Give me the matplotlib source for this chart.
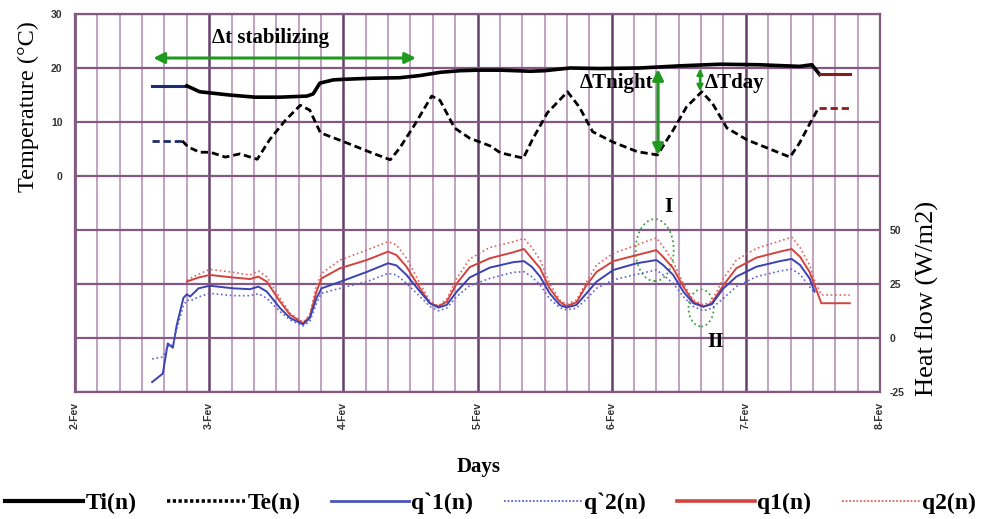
import numpy as np
import matplotlib
matplotlib.use('Agg')
import matplotlib.pyplot as plt
from matplotlib.lines import Line2D
from matplotlib.patches import Ellipse

SERIF = ['Liberation Serif', 'DejaVu Serif']
SANS = ['Liberation Sans', 'DejaVu Sans']

# ========== data (time = hours from 2-Fev 00:00) ==========
day_labels = ['2-Fev', '3-Fev', '4-Fev', '5-Fev', '6-Fev', '7-Fev', '8-Fev']

# Ti(n) indoor temperature
ti_start_h = [13.8, 20.0]
ti_start = [16.7, 16.7]
ti_h = [20.0, 22.3, 27.6, 32.2, 36.7, 41.5, 42.6, 43.8, 46.2, 48.0, 52.8, 58.1, 61.7, 65.3,
        68.9, 72.0, 76.1, 81.4, 84.0, 88.6, 93.8, 101.0, 108.2, 115.4, 122.4, 129.6, 131.8, 133.2]
ti = [16.7, 15.6, 15.0, 14.6, 14.6, 14.8, 15.2, 17.2, 17.8, 17.9, 18.1, 18.2, 18.6, 19.2,
      19.5, 19.6, 19.6, 19.4, 19.5, 20.0, 19.9, 20.0, 20.4, 20.7, 20.6, 20.3, 20.6, 18.8]
ti_end_h = [133.2, 138.6]
ti_end = [18.8, 18.8]

# Te(n) outdoor temperature
te_start_h = [13.8, 19.2]
te_start = [6.5, 6.5]
te_h = [19.2, 20.2, 22.3, 24.2, 26.9, 29.5, 32.6, 34.8, 37.7, 40.3, 42.0, 43.9, 48.2, 52.8,
        56.4, 58.1, 60.7, 63.8, 65.3, 67.9, 70.6, 74.2, 76.1, 80.2, 81.8, 84.5, 88.1, 90.2,
        92.6, 96.2, 100.6, 104.2, 107.0, 109.4, 112.1, 114.0, 116.6, 120.2, 123.8, 127.9,
        129.6, 131.5, 133.0]
te = [6.5, 5.4, 4.4, 4.4, 3.5, 4.1, 3.1, 6.7, 10.4, 13.1, 12.2, 8.0, 6.3, 4.4,
      3.0, 5.2, 9.4, 14.8, 14.0, 8.9, 7.0, 5.6, 4.3, 3.3, 6.7, 11.7, 15.6, 12.8,
      8.2, 6.3, 4.5, 3.9, 8.5, 12.8, 15.6, 13.5, 8.9, 6.7, 5.2, 3.5,
      6.1, 9.8, 12.6]
te_end_h = [133.0, 138.6]
te_end = [12.6, 12.6]

# heat flows q1, q2 (red)
red_h = [20.0, 22.1, 24.1, 28.3, 31.3, 32.8, 34.3, 36.7, 38.5, 40.8, 42.0, 43.2, 44.1, 47.4,
         52.2, 56.0, 57.5, 59.3, 61.7, 63.5, 65.0, 66.5, 68.3, 70.6, 74.2, 78.4, 80.3, 81.7,
         83.2, 84.9, 86.7, 87.9, 89.7, 91.5, 93.3, 96.3, 100.5, 104.0, 105.2, 107.0, 108.8,
         110.6, 112.4, 113.9, 116.0, 118.3, 121.9, 126.1, 128.2, 129.7, 131.4, 132.3, 133.5, 138.6]
q1 = [26.1, 28.0, 29.2, 28.0, 27.3, 28.4, 26.1, 16.8, 10.7, 6.8, 9.9, 21.5, 27.6, 32.3,
      36.1, 40.0, 38.4, 33.0, 23.0, 16.1, 14.6, 16.8, 25.3, 32.8, 36.9, 39.7, 41.2, 36.9,
      32.3, 23.0, 16.8, 14.8, 16.5, 24.5, 30.6, 35.6, 38.4, 40.7, 37.6, 32.3, 23.8,
      16.8, 14.5, 16.1, 24.5, 32.3, 37.2, 40.0, 41.2, 37.6, 30.6, 24.5, 16.1, 16.1]
q2 = [26.8, 29.5, 31.8, 30.4, 29.2, 31.0, 28.4, 18.4, 11.4, 7.3, 10.7, 24.5, 29.9, 36.1,
      40.7, 44.6, 43.1, 36.9, 25.3, 17.1, 14.8, 18.1, 27.6, 36.6, 41.9, 44.6, 46.1, 41.9,
      36.1, 25.3, 17.6, 15.6, 17.6, 26.1, 33.8, 39.2, 43.1, 46.4, 42.3, 35.3, 25.3,
      17.6, 15.3, 17.1, 27.6, 36.1, 41.5, 44.9, 46.7, 41.9, 33.8, 26.8, 19.9, 19.9]

# heat flows q`1, q`2 (blue)
blue_h = [13.8, 15.7, 16.6, 17.5, 18.2, 19.4, 20.0, 20.6, 22.1, 24.1, 28.3, 31.3, 32.8, 34.3,
          36.7, 38.5, 40.8, 42.0, 43.2, 44.1, 47.4, 52.2, 56.0, 57.5, 59.3, 61.7, 63.5, 65.0,
          66.5, 68.3, 70.6, 74.2, 78.4, 80.3, 81.7, 83.2, 84.9, 86.7, 87.9, 89.7, 91.5, 93.3,
          96.3, 100.5, 104.0, 105.2, 107.0, 108.8, 110.6, 112.4, 113.9, 116.0, 118.3, 121.9,
          126.1, 128.2, 129.7, 131.4, 132.3]
qp1 = [-20.4, -16.5, -2.5, -4.5, 6.0, 18.6, 20.2, 19.2, 23.0, 24.2, 23.0, 22.6, 23.8, 21.5,
       13.8, 9.2, 6.3, 9.2, 18.4, 23.0, 26.0, 30.6, 34.6, 33.6, 29.2, 21.5, 16.1, 14.1,
       15.3, 21.5, 28.0, 32.6, 35.1, 35.6, 33.0, 28.4, 20.7, 15.3, 14.1, 15.3, 20.7, 26.1,
       31.5, 34.6, 36.1, 33.8, 29.2, 21.5, 16.1, 14.5, 15.6, 23.0, 28.4, 33.0,
       35.6, 36.6, 33.8, 27.6, 21.5]
qp2 = [-9.7, -8.8, -4.0, -3.0, 4.0, 15.0, 17.6, 17.2, 19.0, 20.7, 19.6, 19.6, 20.5, 18.4,
       12.2, 8.3, 5.6, 7.6, 16.1, 20.7, 23.0, 26.1, 29.9, 29.2, 25.3, 19.2, 14.6, 12.6,
       13.8, 19.2, 24.2, 27.6, 30.4, 30.7, 28.4, 24.5, 18.1, 14.1, 13.0, 13.8, 18.1, 23.0,
       26.9, 29.5, 31.5, 29.2, 25.3, 19.2, 14.6, 12.6, 13.8, 18.4, 23.8, 28.4,
       31.0, 31.9, 29.5, 23.8, 20.7]

# annotation values
stab_start, stab_end, stab_temp = 14.0, 61.0, 21.85
night_h, night_top, night_bot = 104.3, 19.8, 3.9
day_h, day_top, day_bot = 111.8, 19.9, 15.7

# ========== colours ==========
GRID_H = '#835983'
GRID_DAY = '#64406a'
GRID_MINOR = '#b894b8'
GREEN = '#1f9a1f'
NAVY = '#1c2a70'
DARKRED = '#8a1c1c'
BLUE = '#3a42b2'
BLUE_DOT = '#5b63d6'
RED = '#d2433e'
RED_DOT = '#e3625c'

fig = plt.figure(figsize=(9.81, 5.19), dpi=100)
ax = fig.add_axes([75 / 981, 1 - 392 / 519, 805 / 981, 378 / 519])
ax2 = ax.twinx()

# ---------- grid ----------
ax.set_xlim(0, 144)
ax.set_ylim(-40, 30)
ax2.set_ylim(-25, 150)
ax.set_xticks(np.arange(0, 145, 24))
ax.set_xticks(np.arange(0, 145, 4), minor=True)
ax.set_yticks(np.arange(-40, 31, 10))
ax.grid(which='minor', axis='x', color=GRID_MINOR, linewidth=1.2)
ax.grid(which='major', axis='x', color=GRID_DAY, linewidth=1.8)
ax.grid(which='major', axis='y', color=GRID_H, linewidth=1.6)
ax.set_axisbelow(True)
for sp in ax.spines.values():
    sp.set_color(GRID_H)
    sp.set_linewidth(1.6)
for sp in ax2.spines.values():
    sp.set_visible(False)

ax.set_xticklabels(day_labels, rotation=90, fontsize=7.5, fontweight='bold',
                   family=SANS, color='#333333', va='top')
ax.set_yticklabels([str(v) if v >= 0 else '' for v in range(-40, 31, 10)],
                   fontsize=7.5, fontweight='bold', family=SANS, color='#333333')
ax2.set_yticks([-25, 0, 25, 50])
ax2.set_yticklabels(['-25', '0', '25', '50'], fontsize=7.5, fontweight='bold',
                    family=SANS, color='#333333')
ax.tick_params(which='both', length=0)
ax.tick_params(axis='x', pad=7)
ax.tick_params(axis='y', pad=9)
ax2.tick_params(length=0, pad=7)

# ---------- temperatures ----------
ax.plot(ti_start_h, ti_start, color=NAVY, lw=2.2)
ax.plot(ti_h, ti, color='black', lw=2.6)
ax.plot(ti_end_h, ti_end, color=DARKRED, lw=2.2)
dash = (0, (2.6, 1.4))
ax.plot(te_start_h, te_start, color=NAVY, lw=2.0, ls=dash)
ax.plot(te_h, te, color='black', lw=2.0, ls=dash)
ax.plot(te_end_h, te_end, color=DARKRED, lw=2.0, ls=dash)

# ---------- heat flows ----------
ax2.plot(red_h, q2, color=RED_DOT, lw=1.2, ls=':')
ax2.plot(red_h, q1, color=RED, lw=1.4)
ax2.plot(blue_h, qp1, color=BLUE, lw=1.4)
ax2.plot(blue_h, qp2, color=BLUE_DOT, lw=1.2, ls=':')

# ---------- annotations ----------
arrow_kw = dict(arrowstyle='<|-|>', color=GREEN, lw=2.2, mutation_scale=16,
                shrinkA=0, shrinkB=0)
ax.annotate('', xy=(stab_end, stab_temp), xytext=(stab_start, stab_temp), arrowprops=arrow_kw)
ax.text((stab_start + stab_end) / 2 - 2.5, 25.5, '\u0394t stabilizing', ha='center',
        va='center', fontsize=15, fontweight='bold', family=SERIF)
ax.annotate('', xy=(night_h, night_bot), xytext=(night_h, night_top), arrowprops=arrow_kw)
ax.text(night_h - 0.9, 17.2, '\u0394Tnight', ha='right', va='center', fontsize=15,
        fontweight='bold', family=SERIF)
ax.annotate('', xy=(day_h, day_bot), xytext=(day_h, day_top),
            arrowprops=dict(arrowstyle='<|-|>', color=GREEN, lw=1.6, mutation_scale=9,
                            shrinkA=0, shrinkB=0))
ax.text(day_h + 0.9, 17.2, '\u0394Tday', ha='left', va='center', fontsize=15,
        fontweight='bold', family=SERIF)

ax2.add_patch(Ellipse((103.7, 40.7), 6.8, 28.7, fill=False, ls=':', lw=1.3, ec='#3aa53a'))
ax2.add_patch(Ellipse((112.0, 13.9), 4.5, 17.1, fill=False, ls=':', lw=1.3, ec='#3aa53a'))
ax2.text(106.1, 60.6, 'I', ha='center', va='center', fontsize=15, fontweight='bold', family=SERIF)
ax2.text(114.5, -1.9, 'II', ha='center', va='center', fontsize=15, fontweight='bold', family=SERIF)

# ---------- axis labels ----------
fig.text(28 / 981, 1 - 107 / 519, 'Temperature (\u00b0C)', rotation=90, ha='center',
         va='center', fontsize=17.5, family=SERIF)
fig.text(927 / 981, 1 - 298 / 519, 'Heat flow (W/m2)', rotation=90, ha='center',
         va='center', fontsize=19, family=SERIF)
fig.text(479 / 981, 1 - 467 / 519, 'Days', ha='center', va='center', fontsize=15,
         fontweight='bold', family=SERIF)

# ---------- legend ----------
handles = [
    Line2D([], [], color='black', lw=3),
    Line2D([], [], color='black', lw=2.6, ls=(0, (0.9, 0.7))),
    Line2D([], [], color='#4c55b8', lw=2),
    Line2D([], [], color=BLUE_DOT, lw=1.3, ls=(0, (1, 1))),
    Line2D([], [], color=RED, lw=2.6),
    Line2D([], [], color=RED_DOT, lw=1.3, ls=(0, (1, 1))),
]
labels = ['Ti(n)', 'Te(n)', 'q`1(n)', 'q`2(n)', 'q1(n)', 'q2(n)']
fig.legend(handles, labels, loc='center', bbox_to_anchor=(0.5, 1 - 503 / 519), ncol=6,
           frameon=False, handlelength=3.3, handletextpad=0.1, columnspacing=1.3,
           prop={'family': SERIF, 'weight': 'bold', 'size': 17}, borderaxespad=0)

fig.savefig('out.png', dpi=100)
